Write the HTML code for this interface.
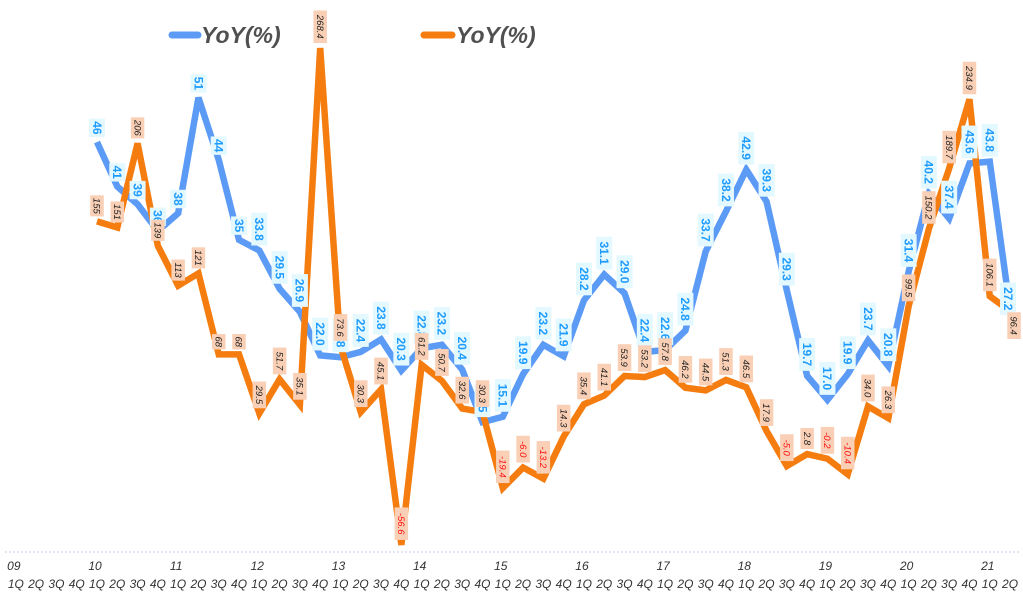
<!DOCTYPE html>
<html><head><meta charset="utf-8"><style>
html,body{margin:0;padding:0;background:#fff;}
svg{display:block;font-family:"Liberation Sans",sans-serif;}
</style></head><body>
<svg id="chart" width="1023" height="615" viewBox="0 0 1023 615" xmlns="http://www.w3.org/2000/svg">
<line x1="5" y1="552" x2="1020" y2="552" stroke="#c8c8f0" stroke-width="1" stroke-dasharray="2,2"/>
<g>
<line x1="172" y1="35" x2="198" y2="35" stroke="#5b9bf5" stroke-width="7" stroke-linecap="round"/>
<text x="201" y="43" font-size="23" font-weight="bold" font-style="italic" fill="#505050">YoY(%)</text>
<line x1="424" y1="35" x2="452" y2="35" stroke="#f57c0f" stroke-width="7" stroke-linecap="round"/>
<text x="456" y="43" font-size="23" font-weight="bold" font-style="italic" fill="#505050">YoY(%)</text>
</g>
<g id="axis"></g><g id="lines"></g><g id="labels"></g>
</svg>
<script>
const years = ["09","10","11","12","13","14","15","16","17","18","19","20","21"];
const quarters = ["1Q","2Q","3Q","4Q"];
const blueValues = [46,41,39,36,38,51,44,35,33.8,29.5,26.9,22.0,21.8,22.4,23.8,20.3,22.8,23.2,20.4,14.5,15.1,19.9,23.2,21.9,28.2,31.1,29.0,22.4,22.6,24.8,33.7,38.2,42.9,39.3,29.3,19.7,17.0,19.9,23.7,20.8,31.4,40.2,37.4,43.6,43.8,27.2];
const orangeValues = [155,151,206,139,113,121,68,68,29.5,51.7,35.1,268.4,73.6,30.3,45.1,-56.6,61.2,50.7,32.6,30.3,-19.4,-6.0,-13.2,14.3,35.4,41.1,53.9,53.2,57.8,46.2,44.5,51.3,46.5,17.9,-5.0,2.8,-0.2,-10.4,34.0,26.3,99.5,150.2,189.7,234.9,106.1,96.4];
const blueDecimals = [0,0,0,0,0,0,0,0,1,1,1,1,1,1,1,1,1,1,1,1,1,1,1,1,1,1,1,1,1,1,1,1,1,1,1,1,1,1,1,1,1,1,1,1,1,1];
const NS="http://www.w3.org/2000/svg";
const startOffset = 4;
function xPos(i){return 97 + i*20.29;}
function yBlue(v){return 551 - v*8.89;}
function yOrange(v){return 458.4 - v*1.529;}
function mk(tag,attrs,parent){const e=document.createElementNS(NS,tag);for(const k in attrs)e.setAttribute(k,attrs[k]);parent.appendChild(e);return e;}
const axis=document.getElementById('axis');
years.forEach((y,yi)=>{
  for(let q=0;q<4;q++){
    const i=yi*4+q-startOffset;
    if(yi===12&&q>1)continue;
    const t=mk('text',{x:xPos(i),y:588,'font-size':12,'font-style':'italic','text-anchor':'middle',fill:'#333'},axis);
    
    
    t.textContent=quarters[q];
    if(q===0){
      const ty=mk('text',{x:xPos(i)-2,y:570,'font-size':12,'font-style':'italic','text-anchor':'middle',fill:'#333'},axis);
      
      
      ty.textContent=y;
    }
  }
});
const lines=document.getElementById('lines');
const bp=blueValues.map((v,i)=>xPos(i)+','+yBlue(v)).join(' ');
const op=orangeValues.map((v,i)=>xPos(i)+','+yOrange(v)).join(' ');
const bl=mk('polyline',{points:bp,fill:'none',stroke:'#5b9bf5','stroke-width':6.5,'stroke-linejoin':'miter'},lines);


const ol=mk('polyline',{points:op,fill:'none',stroke:'#f57c0f','stroke-width':6.5,'stroke-linejoin':'miter'},lines);


const labels=document.getElementById('labels');
function label(x,yBottom,txt,fs,bg,col,bold,italic,name){
  const g=mk('g',{},labels);
  
  
  const len=txt.length*fs*0.6+4;
  const w=fs+4;
  mk('rect',{x:x-w/2,y:yBottom-len,width:w,height:len,fill:bg},g);
  const t=mk('text',{x:0,y:0,'font-size':fs,fill:col,'font-weight':bold?'bold':'normal','font-style':italic?'italic':'normal','text-anchor':'middle',transform:`translate(${x-fs*0.35},${yBottom-len/2}) rotate(90)`},g);
  t.textContent=txt;
}
const nB=blueValues.length, nO=orangeValues.length;
blueValues.forEach((v,i)=>{
  const s=v.toFixed(blueDecimals[i]);
  if(i===nB-1){ label(xPos(i)-2,yBlue(v)+6,s,12,'#e3f9ff','#1e9bff',true,false,'blue-data-label'); return; }
  label(xPos(i),yBlue(v)-5,s,12,'#e3f9ff','#1e9bff',true,false,'blue-data-label');
});
orangeValues.forEach((v,i)=>{
  const s=v.toString().indexOf('.')<0&&i>=8?v.toFixed(1):v.toString();
  if(i===nO-1){ label(xPos(i)+4,yOrange(v)+28,s,9.5,'#f9cfb5','#202020',false,true,'orange-data-label'); return; }
  label(xPos(i),yOrange(v)-5,s,9.5,'#f9cfb5',v<0?'#ff1010':'#202020',false,true,'orange-data-label');
});
</script>
</body></html>
